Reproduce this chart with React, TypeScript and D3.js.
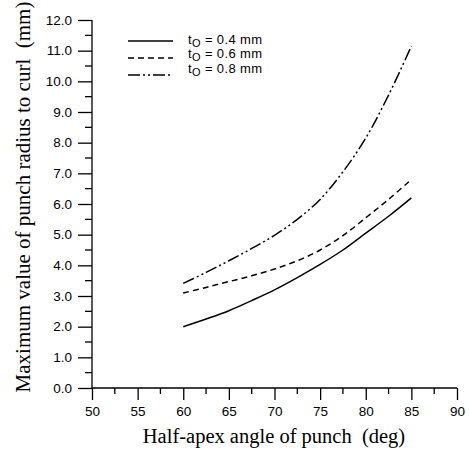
import * as d3 from "d3";
import React, { useEffect, useRef } from "react";

// half-apex angle of punch (deg)
const angles = [60, 62.5, 65, 67.5, 70, 72.5, 75, 77.5, 80, 82.5, 85];
// max punch radius to curl (mm) for each sheet thickness
const radius04 = [2.0, 2.25, 2.52, 2.85, 3.2, 3.6, 4.03, 4.5, 5.05, 5.6, 6.2];
const radius06 = [3.1, 3.28, 3.47, 3.66, 3.88, 4.15, 4.5, 4.97, 5.55, 6.15, 6.8];
const radius08 = [3.41, 3.77, 4.15, 4.55, 4.98, 5.5, 6.15, 7.05, 8.15, 9.55, 11.15];
const seriesLabels = ["0.4", "0.6", "0.8"];
const xTicks = [50, 55, 60, 65, 70, 75, 80, 85, 90];
const yTicks = [0, 1, 2, 3, 4, 5, 6, 7, 8, 9, 10, 11, 12];

const App = () => {
  const svgRef = useRef<SVGSVGElement | null>(null);

  useEffect(() => {
    const svg = d3.select(svgRef.current);
    svg.selectAll("*").remove();

    const x = d3.scaleLinear().domain([50, 90]).range([92, 457]);
    const y = d3.scaleLinear().domain([0, 12]).range([388, 20]);
    const font = "Liberation Sans, Arial, sans-serif";

    // x axis
    const xAxis = svg.append("g").attr("transform", "translate(0,388)");
    xAxis
      .call(
        d3
          .axisBottom(x)
          .tickValues(xTicks)
          .tickSize(12)
          .tickPadding(6)
          .tickFormat(d3.format("d"))
      )
      .call((g) => g.select(".domain").attr("d", "M92,0H457"));
    xAxis
      .selectAll("text")
      .attr("font-family", font)
      .attr("font-size", 13.5)
      .attr("fill", "#000");
    xAxis.selectAll("line").attr("stroke-width", 1.3);
    xAxis.select(".domain").attr("stroke-width", 1.3);
    xAxis
      .selectAll(".minor")
      .data(d3.range(52.5, 90, 5))
      .enter()
      .append("line")
      .attr("x1", (d) => x(d))
      .attr("x2", (d) => x(d))
      .attr("y1", 0)
      .attr("y2", 6)
      .attr("stroke", "#000")
      .attr("stroke-width", 1.3);

    // y axis
    const yAxis = svg.append("g").attr("transform", "translate(92,0)");
    yAxis
      .call(
        d3
          .axisLeft(y)
          .tickValues(yTicks)
          .tickSize(14)
          .tickPadding(6)
          .tickFormat(d3.format(".1f"))
      )
      .call((g) => g.select(".domain").attr("d", "M0,20V388"));
    yAxis
      .selectAll("text")
      .attr("font-family", font)
      .attr("font-size", 13.5)
      .attr("fill", "#000");
    yAxis.selectAll("line").attr("stroke-width", 1.3);
    yAxis.select(".domain").attr("stroke-width", 1.3);
    yAxis
      .selectAll(".minor")
      .data(d3.range(0.5, 12, 1))
      .enter()
      .append("line")
      .attr("x1", -7)
      .attr("x2", 0)
      .attr("y1", (d) => y(d))
      .attr("y2", (d) => y(d))
      .attr("stroke", "#000")
      .attr("stroke-width", 1.3);

    // axis titles
    svg
      .append("text")
      .attr("x", 274)
      .attr("y", 443)
      .attr("text-anchor", "middle")
      .attr("font-family", "Liberation Serif, Times New Roman, serif")
      .attr("font-size", 20.5)
      .attr("fill", "#000")
      .attr("xml:space", "preserve")
      .text("Half-apex angle of punch  (deg)");
    svg
      .append("text")
      .attr("transform", "translate(30,197) rotate(-90)")
      .attr("text-anchor", "middle")
      .attr("font-family", "Liberation Serif, Times New Roman, serif")
      .attr("font-size", 21)
      .attr("fill", "#000")
      .attr("xml:space", "preserve")
      .text("Maximum value of punch radius to curl  (mm)");

    // curves
    const dashes = ["none", "6,4", "12,3,2,3,2,3"];
    const series = [radius04, radius06, radius08];
    const line = d3
      .line<number>()
      .x((_, i) => x(angles[i]))
      .y((d) => y(d))
      .curve(d3.curveCatmullRom);
    series.forEach((s, i) => {
      svg
        .append("path")
        .attr("d", line(s))
        .attr("fill", "none")
        .attr("stroke", "#000")
        .attr("stroke-width", 1.5)
        .attr("stroke-dasharray", dashes[i]);
    });

    // legend
    const legend = svg.append("g");
    seriesLabels.forEach((lab, i) => {
      const ly = 41 + i * 17;
      legend
        .append("line")
        .attr("x1", 128)
        .attr("x2", 173)
        .attr("y1", ly)
        .attr("y2", ly)
        .attr("stroke", "#000")
        .attr("stroke-width", 1.3)
        .attr("stroke-dasharray", dashes[i]);
      const t = legend
        .append("text")
        .attr("x", 188)
        .attr("y", 43.5 + i * 14.5)
        .attr("font-family", font)
        .attr("font-size", 13)
        .attr("fill", "#000")
        .attr("textLength", 74)
        .attr("lengthAdjust", "spacing");
      t.append("tspan").text("t");
      t.append("tspan").attr("dy", 3).attr("font-size", 11).text("O");
      t.append("tspan").attr("dy", -3).text(` = ${lab} mm`);
    });
  }, []);

  return (
    <svg
      ref={svgRef}
      width={470}
      height={452}
      style={{ position: "absolute", left: 0, top: 0, background: "#fff" }}
    />
  );
};

export default App;
